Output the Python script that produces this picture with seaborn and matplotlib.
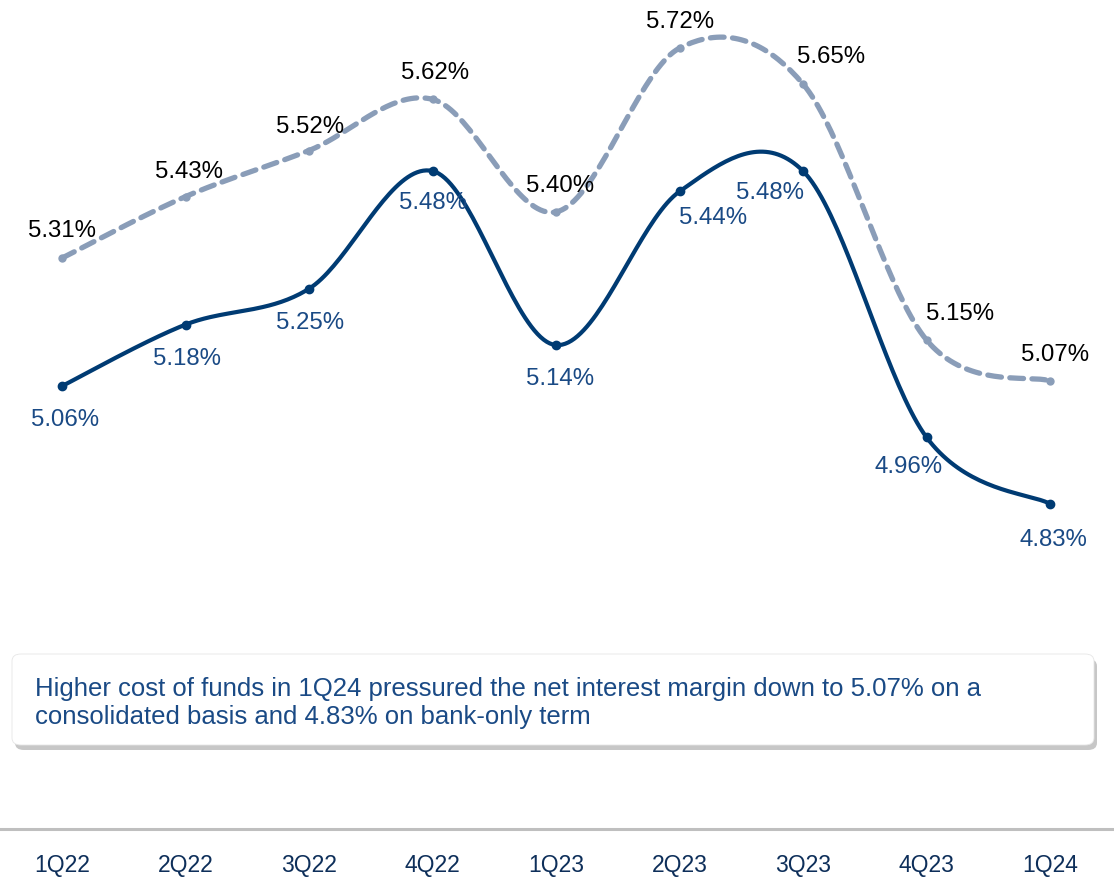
import numpy as np
import pandas as pd
import matplotlib
matplotlib.use("Agg")
import matplotlib.pyplot as plt
from matplotlib.patches import FancyBboxPatch
import seaborn as sns

# ---- data ----
quarters = ["1Q22", "2Q22", "3Q22", "4Q22", "1Q23", "2Q23", "3Q23", "4Q23", "1Q24"]
consolidated = [5.31, 5.43, 5.52, 5.62, 5.40, 5.72, 5.65, 5.15, 5.07]
bank_only = [5.06, 5.18, 5.25, 5.48, 5.14, 5.44, 5.48, 4.96, 4.83]
note_text = ("Higher cost of funds in 1Q24 pressured the net interest margin down to 5.07% on a\n"
             "consolidated basis and 4.83% on bank-only term")

# label offsets (pixels) - styling only
cons_off = [(0, 28), (3, 26), (1, 25), (3, 27), (4, 27), (1, 27), (28, 28), (34, 27), (5, 27)]
bank_off = [(3, -33), (2, -33), (1, -33), (0, -31), (4, -33), (34, -26), (-33, -21), (-18, -29), (3, -35)]

SOLID = "#003B73"
DASH = "#8A9DB8"
LABEL_BLUE = "#1A4A85"
TICK = "#0E2F5A"

sns.set_theme(style="white")
plt.rcParams["font.family"] = ["Liberation Sans", "DejaVu Sans"]


def catmull_rom(vals, n=40):
    p = np.asarray(vals, dtype=float)
    x = np.arange(len(p), dtype=float)
    pts_x, pts_y = [], []
    for i in range(len(p) - 1):
        i0 = max(i - 1, 0)
        i3 = min(i + 2, len(p) - 1)
        bx = [x[i], x[i] + (x[i + 1] - x[i0]) / 6, x[i + 1] - (x[i3] - x[i]) / 6, x[i + 1]]
        by = [p[i], p[i] + (p[i + 1] - p[i0]) / 6, p[i + 1] - (p[i3] - p[i]) / 6, p[i + 1]]
        t = np.linspace(0, 1, n, endpoint=(i == len(p) - 2))
        b = [(1 - t) ** 3, 3 * (1 - t) ** 2 * t, 3 * (1 - t) * t ** 2, t ** 3]
        pts_x.append(sum(bb * c for bb, c in zip(b, bx)))
        pts_y.append(sum(bb * c for bb, c in zip(b, by)))
    return np.concatenate(pts_x), np.concatenate(pts_y)


W, H = 1114, 887
fig = plt.figure(figsize=(W / 100, H / 100), dpi=100)
fig.patch.set_facecolor("white")
ax_bottom_px = 830
ax = fig.add_axes([0, (H - ax_bottom_px) / H, 1, ax_bottom_px / H])
ax.set_facecolor("white")

cx, cy = catmull_rom(consolidated)
bx_, by_ = catmull_rom(bank_only)
df_c = pd.DataFrame({"x": cx, "y": cy})
df_b = pd.DataFrame({"x": bx_, "y": by_})

sns.lineplot(data=df_c, x="x", y="y", ax=ax, sort=False, estimator=None,
             color=DASH, linewidth=3.8, linestyle=(0, (2.6, 1.6)), dash_capstyle="round")
sns.lineplot(data=df_b, x="x", y="y", ax=ax, sort=False, estimator=None,
             color=SOLID, linewidth=3.0)

xi = np.arange(len(quarters))
ax.plot(xi, consolidated, "o", color=DASH, markersize=5, zorder=3)
ax.plot(xi, bank_only, "o", color=SOLID, markersize=6, zorder=3)

for i, v in enumerate(consolidated):
    ax.annotate(f"{v:.2f}%", (i, v), xytext=cons_off[i], textcoords="offset pixels",
                ha="center", va="center", fontsize=17.3, color="black")
for i, v in enumerate(bank_only):
    ax.annotate(f"{v:.2f}%", (i, v), xytext=bank_off[i], textcoords="offset pixels",
                ha="center", va="center", fontsize=17.3, color=LABEL_BLUE)

# scale: 1Q22 at x=62px, spacing 123.5px ; 5.48 at y=172px, 512px per unit
sp = 123.5
ax.set_xlim(-62 / sp, (W - 62) / sp)
ax.set_ylim(5.48 - (ax_bottom_px - 172) / 512, 5.48 + 172 / 512)
ax.set_xticks(xi)
ax.set_xticklabels(quarters, fontsize=16.5, color=TICK)
ax.tick_params(axis="x", length=0, pad=17)
ax.set_yticks([])
ax.set_xlabel("")
ax.set_ylabel("")
for s in ["top", "left", "right"]:
    ax.spines[s].set_visible(False)
ax.spines["bottom"].set_color("#BFBFBF")
ax.spines["bottom"].set_linewidth(2.2)

# note box with shadow
bx0, by0, bx1, by1 = 12, 655, 1094, 746
shadow = FancyBboxPatch(((bx0 + 3) / W, 1 - (by1 + 5) / H), (bx1 - bx0) / W, (by1 - by0) / H,
                        boxstyle="round,pad=0,rounding_size=0.008", transform=fig.transFigure,
                        facecolor="#9A9A9A", edgecolor="none", alpha=0.55, zorder=5)
box = FancyBboxPatch((bx0 / W, 1 - by1 / H), (bx1 - bx0) / W, (by1 - by0) / H,
                     boxstyle="round,pad=0,rounding_size=0.008", transform=fig.transFigure,
                     facecolor="white", edgecolor="#E6E6E6", linewidth=0.6, zorder=6)
fig.patches.extend([shadow, box])
fig.text(35 / W, 1 - 703 / H, note_text, ha="left", va="center", fontsize=18.5,
         color=LABEL_BLUE, linespacing=1.22, zorder=7)

fig.savefig("out.png", dpi=100, facecolor="white")
